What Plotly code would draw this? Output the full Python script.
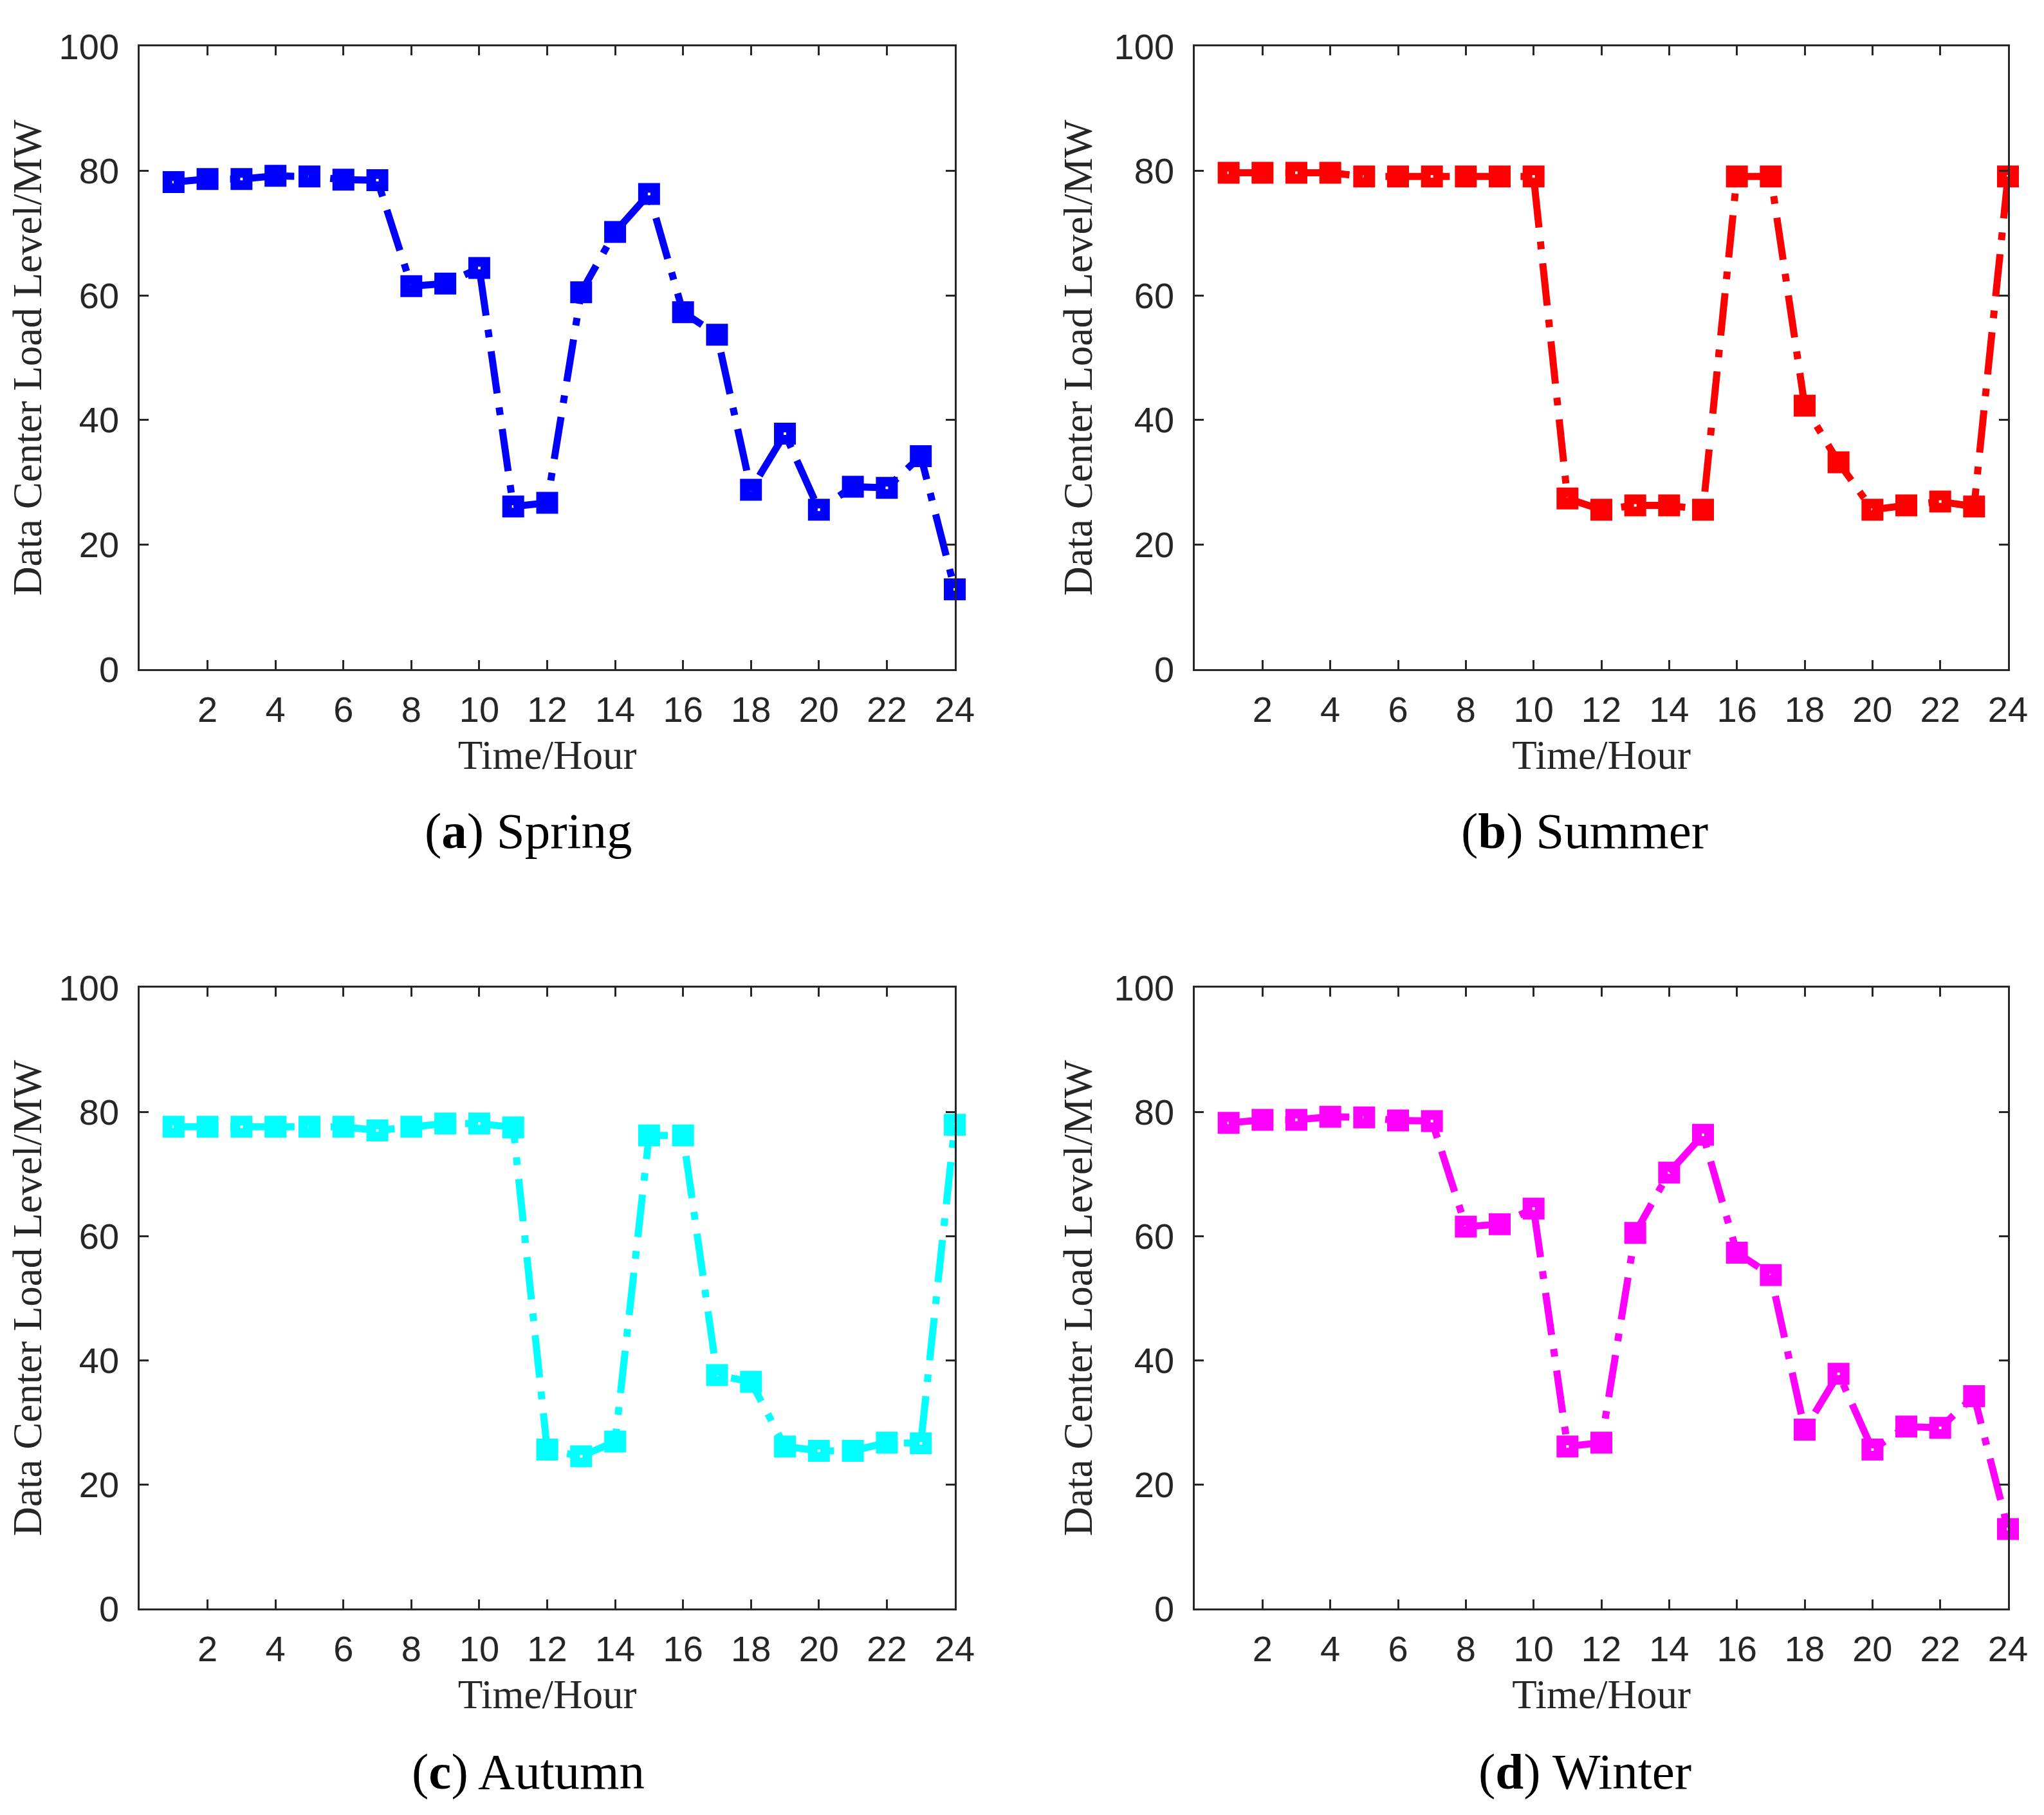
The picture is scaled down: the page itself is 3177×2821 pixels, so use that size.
import plotly.graph_objects as go
from plotly.subplots import make_subplots

hours = list(range(1, 25))

spring = [78.2, 78.7, 78.7, 79.2, 79.1, 78.6, 78.5, 61.5, 61.9, 64.4, 26.1, 26.7,
          60.5, 70.2, 76.3, 57.3, 53.7, 28.8, 37.8, 25.6, 29.3, 29.1, 34.2, 12.8]
summer = [79.7, 79.7, 79.7, 79.7, 79.1, 79.1, 79.1, 79.1, 79.1, 79.1, 27.4, 25.6,
          26.3, 26.3, 25.6, 79.1, 79.1, 42.3, 33.2, 25.6, 26.3, 26.9, 26.1, 79.1]
autumn = [77.6, 77.6, 77.6, 77.6, 77.6, 77.6, 77.0, 77.6, 78.1, 78.1, 77.5, 25.6,
          24.5, 26.9, 76.2, 76.2, 37.6, 36.5, 26.1, 25.4, 25.4, 26.7, 26.6, 77.9]
winter = [78.2, 78.7, 78.7, 79.2, 79.1, 78.6, 78.5, 61.5, 61.9, 64.4, 26.1, 26.7,
          60.5, 70.2, 76.3, 57.3, 53.7, 28.8, 37.8, 25.6, 29.3, 29.1, 34.2, 12.8]

series = [spring, summer, autumn, winter]
colors = ["#0000FF", "#FF0000", "#00FFFF", "#FF00FF"]
captions = ["(<b>a</b>) Spring", "(<b>b</b>) Summer", "(<b>c</b>) Autumn", "(<b>d</b>) Winter"]

x_ticks = list(range(2, 25, 2))
y_ticks = [0, 20, 40, 60, 80, 100]

W, H = 3177, 2821
off = 8  # page body margin
ink = "#262626"
sans = "Liberation Sans, Arial, sans-serif"
serif = "Liberation Serif, Times New Roman, serif"

fig = make_subplots(rows=2, cols=2)

# panel boxes in pixels (left, right, top, bottom)
boxes = [(217, 1484, 72, 1040), (1857, 3121, 72, 1040),
         (217, 1484, 1535, 2500), (1857, 3121, 1535, 2500)]
cap_pos = [(822, 1291), (2463, 1291), (821, 2753), (2463, 2753)]

for i, ys in enumerate(series):
    r, c = i // 2 + 1, i % 2 + 1
    fig.add_trace(go.Scatter(
        x=hours, y=ys, mode="lines+markers", cliponaxis=False,
        line=dict(color=colors[i], width=11, dash="66px,22px,12px,22px"),
        marker=dict(symbol="square-open", size=19, color=colors[i],
                    line=dict(color=colors[i], width=15)),
        showlegend=False), row=r, col=c)

    left, right, top, bottom = [v - off for v in boxes[i]]
    fig.update_xaxes(row=r, col=c, domain=[left / W, right / W], range=[0, 24],
                     automargin=False,
                     tickvals=x_ticks, ticks="inside", ticklen=14, tickwidth=2.5,
                     tickcolor=ink, showline=True, linecolor=ink, linewidth=2.5,
                     mirror="ticks", showgrid=False, zeroline=False,
                     tickfont=dict(family=sans, size=56, color=ink),
                     ticklabelstandoff=12,
                     title=dict(text="Time/Hour", standoff=18,
                                font=dict(family=serif, size=63, color=ink)))
    fig.update_yaxes(row=r, col=c, domain=[1 - bottom / H, 1 - top / H], range=[0, 100],
                     automargin=False,
                     tickvals=y_ticks, ticks="inside", ticklen=14, tickwidth=2.5,
                     tickcolor=ink, showline=True, linecolor=ink, linewidth=2.5,
                     mirror="ticks", showgrid=False, zeroline=False,
                     tickfont=dict(family=sans, size=56, color=ink),
                     ticklabelstandoff=18,
                     title=dict(text="Data Center Load Level/MW", standoff=14,
                                font=dict(family=serif, size=63, color=ink)))

    cx, cy = cap_pos[i]
    fig.add_annotation(text=captions[i], x=(cx - off) / W, y=1 - (cy - off) / H,
                       xref="paper", yref="paper",
                       showarrow=False, xanchor="center", yanchor="middle",
                       font=dict(family=serif, size=79, color="#000000"))

fig.update_layout(template="none", width=W, height=H, autosize=False,
                  margin=dict(l=0, r=0, t=0, b=0),
                  paper_bgcolor="white", plot_bgcolor="white")

fig.write_html("out.html")
